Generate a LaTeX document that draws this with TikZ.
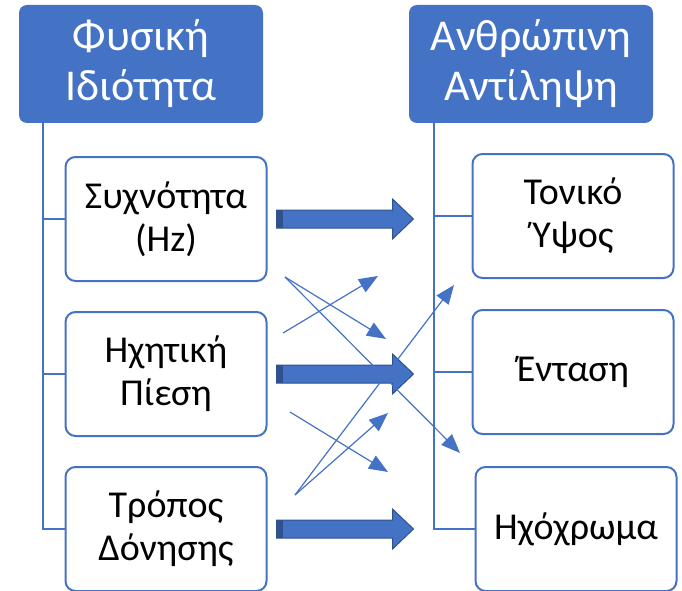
\documentclass[tikz,border=0pt]{standalone}
\usepackage{fontspec}
\setmainfont{Carlito}
\usetikzlibrary{arrows.meta,positioning}
\definecolor{hdrblue}{HTML}{4472C4}
\definecolor{edgeblue}{HTML}{2F528F}

\begin{document}
\begin{tikzpicture}[x=1pt,y=-1pt,
	head/.style={fill=hdrblue, rounded corners=8pt, text=white, align=center,
		font=\fontsize{44}{50}\selectfont, minimum width=244pt, minimum height=118pt, inner sep=0pt},
	item/.style={draw=hdrblue, line width=2pt, rounded corners=10pt, fill=white, align=center,
		font=\fontsize{38}{43}\selectfont, minimum width=201pt, minimum height=124pt, inner sep=0pt},
	trunk/.style={draw=hdrblue, line width=2pt},
	thin/.style={draw=hdrblue, line width=1.2pt, -{Triangle[length=19pt,width=15pt]}},
	bigarrow/.style={fill=hdrblue, draw=edgeblue, line width=1pt}]
	\useasboundingbox (0,0) rectangle (682,591);

	% headers
	\node[head] (lhead) at (141,64) {Φυσική\\Ιδιότητα};
	\node[head] (rhead) at (531,64) {Ανθρώπινη\\Αντίληψη};

	% left column
	\node[item] (freq) at (166,219) {Συχνότητα\\(Hz)};
	\node[item] (press) at (166,374) {Ηχητική\\Πίεση};
	\node[item] (mode) at (166,529) {Τρόπος\\Δόνησης};

	% right column
	\node[item] (pitch) at (573,216) {Τονικό\\Ύψος};
	\node[item] (loud) at (573,372) {Ένταση};
	\node[item] (timbre) at (576,529) {Ηχόχρωμα};

	\foreach \n in {freq,press,mode}
		\draw[trunk] ([xshift=24pt]lhead.south west) |- (\n.west);
	\foreach \n in {pitch,loud,timbre}
		\draw[trunk] ([xshift=25pt]rhead.south west) |- (\n.west);

	% big arrows
	\foreach \a in {freq,press,mode}{
		\filldraw[bigarrow] ([xshift=9pt]\a.east) ++(0,-9) -- ++(116,0) -- ++(0,-11)
			-- ++(21,20) -- ++(-21,20) -- ++(0,-11) -- ++(-116,0) -- cycle;
		\fill[edgeblue] ([xshift=9pt]\a.east) ++(0,-9) rectangle ++(6,18);
	}

	% crossing arrows
	\coordinate (f1) at (285,277);
	\coordinate (p1) at (283,333);
	\coordinate (p2) at (290,412);
	\coordinate (m1) at (295,495);
	\coordinate (t1) at (386,339);
	\coordinate (t2) at (460,453);
	\coordinate (t3) at (378,276);
	\coordinate (t4) at (388,472);
	\coordinate (t5) at (388,413);
	\coordinate (t6) at (454,285);
	\draw[thin] (f1) -- (t1);
	\draw[thin] (f1) -- (t2);
	\draw[thin] (p1) -- (t3);
	\draw[thin] (p2) -- (t4);
	\draw[thin] (m1) -- (t5);
	\draw[thin] (m1) -- (t6);
\end{tikzpicture}
\end{document}
